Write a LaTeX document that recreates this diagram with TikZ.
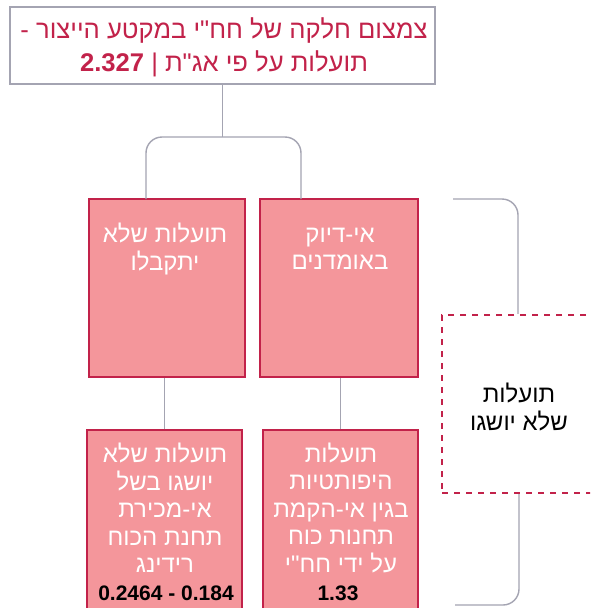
\documentclass[tikz,border=0pt]{standalone}
\usepackage{fontspec}
\setmainfont{Liberation Sans}
\newfontfamily\heb[Script=Hebrew]{Liberation Sans}
\TeXXeTstate=1
\usetikzlibrary{calc}
\definecolor{pinkfill}{HTML}{F4969B}
\definecolor{crim}{HTML}{C2224A}
\definecolor{greyline}{HTML}{A4A4B2}
\begin{document}
\begin{tikzpicture}[x=1pt,y=-1pt,
  conn/.style={draw=greyline,line width=1.4pt,rounded corners=16pt},
  pinkbox/.style={draw=crim,fill=pinkfill,line width=1.3pt,inner sep=0pt},
  wtext/.style={text=white,font=\heb\fontsize{24}{27.5}\selectfont,align=center,inner sep=0pt},
  numtext/.style={text=black,font=\bfseries\fontsize{21}{24}\selectfont,inner sep=0pt},
  dashbox/.style={draw=crim,line width=2.4pt,dash pattern=on 6pt off 6pt,inner sep=0pt},
  titlebox/.style={draw=greyline,line width=1.6pt,fill=white,inner sep=0pt}
]
\clip (0,0) rectangle (590,608);
\fill[white] (0,0) rectangle (590,608);

% title
\node[titlebox,minimum width=425pt,minimum height=77pt] (title) at (222.5,45.5) {};
\node[text=crim,font=\heb\fontsize{25.6}{33}\selectfont,align=center,inner sep=0pt] (titletext) at (224,47)
  {\beginR צמצום חלקה של חח"י במקטע הייצור -\endR\\
   \beginR תועלות על פי אג"ת | \beginL\textbf{2.327}\endL{}\endR};

% row 1
\node[pinkbox,minimum width=156pt,minimum height=178pt] (b2) at (167,288) {};
\node[pinkbox,minimum width=158pt,minimum height=178pt] (b1) at (339,288) {};
\node[wtext] (t2) at (165,249) {\beginR תועלות שלא\endR\\\beginR יתקבלו\endR};
\node[wtext] (t1) at (340,249) {\beginR אי-דיוק\endR\\\beginR באומדנים\endR};

% row 2
\node[pinkbox,minimum width=155pt,minimum height=190pt] (b4) at (164.5,525) {};
\node[pinkbox,minimum width=155pt,minimum height=190pt] (b3) at (340.5,525) {};
\node[wtext] (t4) at (165,508) {\beginR תועלות שלא\endR\\\beginR יושגו בשל\endR\\\beginR אי-מכירת\endR\\\beginR תחנת הכוח\endR\\\beginR רידינג\endR};
\node[wtext] (t3) at (341,508) {\beginR תועלות\endR\\\beginR היפותטיות\endR\\\beginR בגין אי-הקמת\endR\\\beginR תחנות כוח\endR\\\beginR על ידי חח"י\endR};
\node[numtext] (n4) at (166,593) {0.2464 - 0.184};
\node[numtext] (n3) at (338,593) {1.33};

% dashed box
\node[dashbox,minimum width=157pt,minimum height=178pt] (nd) at (520.5,404) {};
\node[text=black,font=\heb\fontsize{24}{27.5}\selectfont,align=center,inner sep=0pt] (tn) at (519,407)
  {\beginR תועלות\endR\\\beginR שלא יושגו\endR};

% connectors
\coordinate (mid) at (222.5,137);
\coordinate (bl) at (146,199);
\coordinate (br) at (301,199);
\draw[conn] (title.south) -- (mid);
\draw[conn] (bl) |- (mid) -| (br);
\draw[conn] (b4.north) -- (b4.north |- b2.south);
\draw[conn] (b3.north) -- (b3.north |- b1.south);
\coordinate (rt) at (453,199);
\coordinate (rb) at (455,605);
\draw[conn] (rt) -| ($(nd.north)+(-2.5,0)$);
\draw[conn] ($(nd.south)+(-1.5,0)$) |- (rb);
\end{tikzpicture}
\end{document}
